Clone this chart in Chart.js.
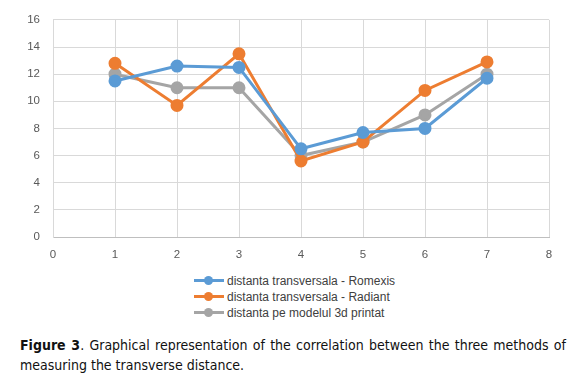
<!DOCTYPE html>
<html>
<head>
<meta charset="utf-8">
<script src="https://cdn.jsdelivr.net/npm/chart.js@4"></script>
<style>
  body { margin: 0; background: #fff; width: 574px; height: 385px; position: relative; overflow: hidden; }
  #wrap { position: absolute; left: 0; top: 0; width: 574px; height: 265px; }
  #legend { position: absolute; left: 194px; top: 273px; font-family: "Liberation Sans", Arial, sans-serif; font-size: 12px; color: #404040; }
  .li { height: 16px; line-height: 16px; position: relative; padding-left: 33px; white-space: nowrap; }
  .li .ln { position: absolute; left: 0; top: 6px; width: 30px; height: 3px; }
  .li .dot { position: absolute; left: 10px; top: 3px; width: 9px; height: 9px; border-radius: 50%; }
  #caption { position: absolute; left: 20px; top: 335px; width: 546px; font-family: "DejaVu Sans Condensed", "DejaVu Sans", sans-serif; font-size: 14px; line-height: 20px; color: #111; text-align: justify; }
</style>
</head>
<body>
<div id="wrap"><canvas id="linechart"></canvas></div>
<div id="legend"></div>
<div id="caption"><b>Figure 3</b>. Graphical representation of the correlation between the three methods of measuring the transverse distance.</div>
<script>
var xValues = [1, 2, 3, 4, 5, 6, 7];
var romexis = [11.5, 12.6, 12.5, 6.5, 7.7, 8.0, 11.7];
var radiant = [12.8, 9.7, 13.5, 5.6, 7.0, 10.8, 12.9];
var printat = [12.0, 11.0, 11.0, 6.0, 7.0, 9.0, 12.0];
var seriesNames = ["distanta transversala - Romexis", "distanta transversala - Radiant", "distanta pe modelul 3d printat"];
var lineColors = ["#5B9BD5", "#ED7D31", "#A5A5A5"];

function toPoints(arr) {
  return arr.map(function (v, i) { return { x: xValues[i], y: v }; });
}

var allSeries = [romexis, radiant, printat];
var datasets = allSeries.map(function (s, i) {
  return {
    label: seriesNames[i],
    data: toPoints(s),
    borderColor: lineColors[i],
    backgroundColor: lineColors[i],
    borderWidth: 3,
    pointRadius: 5,
    pointHoverRadius: 5,
    tension: 0
  };
});

var chart = new Chart("linechart", {
  type: "line",
  data: { datasets: datasets },
  options: {
    responsive: true,
    maintainAspectRatio: false,
    animation: false,
    layout: { padding: { left: 0, right: 25, top: 18, bottom: 0 } },
    plugins: {
      legend: { display: false },
      tooltip: { enabled: false }
    },
    scales: {
      x: {
        type: "linear",
        min: 0,
        max: 8,
        ticks: { stepSize: 1, color: "#595959", padding: 11, font: { family: "Liberation Sans", size: 11.5 } },
        grid: { color: "#D9D9D9", drawTicks: false },
        border: { color: "#BFBFBF" },
        afterFit: function (scale) { scale.height = 28; }
      },
      y: {
        min: 0,
        max: 16,
        ticks: { stepSize: 2, color: "#595959", padding: 13, font: { family: "Liberation Sans", size: 11.5 } },
        grid: { color: "#D9D9D9", drawTicks: false },
        border: { color: "#D9D9D9" },
        afterFit: function (scale) { scale.width = 53; }
      }
    }
  }
});

// legend as html, stacked like the original
var legendBox = document.getElementById("legend");
chart.data.datasets.forEach(function (ds) {
  var row = document.createElement("div");
  row.className = "li";
  row.innerHTML = '<span class="ln" style="background:' + ds.borderColor + '"></span>' +
    '<span class="dot" style="background:' + ds.borderColor + '"></span>' + ds.label;
  legendBox.appendChild(row);
});
</script>
</body>
</html>
